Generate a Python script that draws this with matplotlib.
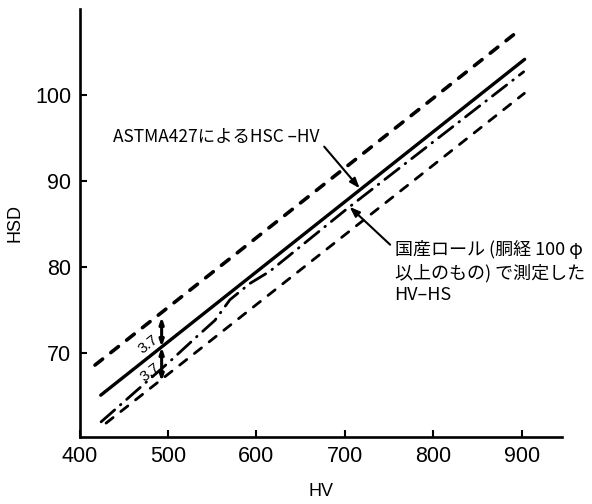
#!/usr/bin/env python
"""HSD vs HV conversion chart: ASTM A427 band and measured HV-HS line."""
import matplotlib

matplotlib.use("Agg")
import matplotlib.pyplot as plt

plt.rcParams["font.family"] = ["Liberation Sans", "DejaVu Sans"]
plt.rcParams["lines.scale_dashes"] = False

JP_FONT = ["Noto Sans CJK JP", "DejaVu Sans"]

# ASTM A427 HSC-HV centre line and +/-3.7 band
HV_CENTER = [424.0, 903.0]
HSD_CENTER = [65.1, 104.15]
HV_UPPER = [417.5, 890.4]
HSD_UPPER = [68.6, 107.0]
HV_LOWER = [430.0, 902.7]
HSD_LOWER = [61.85, 100.2]

# measured HV-HS on domestic rolls (dash-dot)
HV_MEAS = [424.4, 504.0, 532.4, 553.0, 570.0, 592.7, 615.0, 703.2, 901.9]
HSD_MEAS = [62.0, 69.2, 71.9, 73.8, 76.2, 78.1, 79.5, 86.85, 102.7]

X_TICKS = [400, 500, 600, 700, 800, 900]
Y_TICKS = [70, 80, 90, 100]

BAND_HV = 492.8
BAND_TOP, BAND_MID, BAND_BOT = 74.2, 70.7, 66.7
BAND_LABEL = "3.7"


def main() -> None:
    fig = plt.figure(figsize=(5.92, 5.04), dpi=100)
    ax = fig.add_axes([0.1343, 0.1323, 0.8147, 0.8498])

    ax.plot(HV_UPPER, HSD_UPPER, color="black", lw=2.6,
            linestyle=(0, (7, 7.5)), dash_capstyle="round")
    ax.plot(HV_CENTER, HSD_CENTER, color="black", lw=2.4, solid_capstyle="round")
    ax.plot(HV_LOWER, HSD_LOWER, color="black", lw=2.0,
            linestyle=(0, (6.5, 7)), dash_capstyle="round")
    ax.plot(HV_MEAS, HSD_MEAS, color="black", lw=2.0,
            linestyle=(0, (13, 5.5, 0.5, 5.5)), dash_capstyle="round")

    # 3.7 dimension arrows
    dim = dict(arrowstyle="<|-|>,head_length=0.35,head_width=0.12",
               color="black", lw=2.2, shrinkA=0, shrinkB=0)
    ax.annotate("", xy=(BAND_HV, BAND_TOP), xytext=(BAND_HV, BAND_MID), arrowprops=dim)
    ax.annotate("", xy=(BAND_HV, BAND_BOT), xytext=(BAND_HV, BAND_MID), arrowprops=dim)
    ax.text(478, 71.0, BAND_LABEL, fontsize=11, rotation=38, ha="center", va="center")
    ax.text(480.5, 67.8, BAND_LABEL, fontsize=11, rotation=38, ha="center", va="center")

    pointer = dict(arrowstyle="-|>,head_length=0.6,head_width=0.22",
                   color="black", lw=1.5, shrinkA=0, shrinkB=0)
    ax.text(437.7, 95.1, "ASTMA427によるHSC –HV", fontsize=12.5, family=JP_FONT,
            ha="left", va="center")
    ax.annotate("", xy=(716.6, 89.15), xytext=(676.5, 94.0), arrowprops=pointer)

    ax.annotate("", xy=(705.2, 87.0), xytext=(751.0, 82.6), arrowprops=pointer)
    for yy, line in zip([82.0, 79.3, 76.7],
                        ["国産ロール (胴経 100 φ", "以上のもの) で測定した", "HV–HS"]):
        ax.text(756, yy, line, fontsize=13, family=JP_FONT, ha="left", va="center",
                clip_on=False)

    ax.set_xlim(400, 945)
    ax.set_ylim(60.2, 110)
    ax.set_xticks(X_TICKS)
    ax.set_yticks(Y_TICKS)
    ax.tick_params(direction="in", length=5, width=1.5, labelsize=15.5)
    ax.tick_params(axis="x", pad=6)
    ax.tick_params(axis="y", pad=6)
    for side in ("top", "right"):
        ax.spines[side].set_visible(False)
    for side in ("left", "bottom"):
        ax.spines[side].set_linewidth(1.9)

    ax.set_xlabel("HV", fontsize=13, labelpad=12)
    ax.set_ylabel("HSD", fontsize=13, labelpad=8)

    fig.savefig("out.png", dpi=100)
    plt.close(fig)


if __name__ == "__main__":
    main()
